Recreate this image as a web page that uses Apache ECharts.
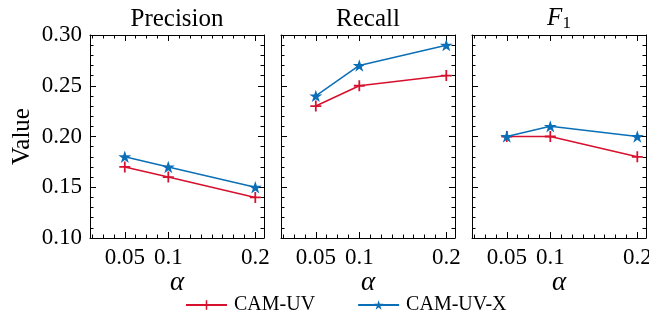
<!DOCTYPE html>
<html>
<head>
<meta charset="utf-8">
<script src="https://cdn.jsdelivr.net/npm/echarts@6/dist/echarts.min.js"></script>
<style>
  html, body { margin: 0; padding: 0; background: #fff; }
  #chart { width: 649px; height: 333px; }
</style>
</head>
<body>
<div id="chart"></div>
<script>
// alpha values on the x axis
const alphas = [0.05, 0.1, 0.2]
const xMajorTicks = [0.05, 0.1, 0.2]
const xMinorTicks = [0.0125, 0.025, 0.0375, 0.0625, 0.075, 0.0875, 0.1125, 0.125,
  0.1375, 0.15, 0.1625, 0.175, 0.1875]
const panelTitles = ['Precision', 'Recall', '{i|F}{s|1}']

const precisionUV = [0.17, 0.16, 0.14]
const precisionUVX = [0.18, 0.17, 0.15]
const recallUV = [0.23, 0.25, 0.26]
const recallUVX = [0.24, 0.27, 0.29]
const f1UV = [0.20, 0.20, 0.18]
const f1UVX = [0.20, 0.21, 0.20]

const seriesNames = ['CAM-UV', 'CAM-UV-X']
const panels = [
  [precisionUV, precisionUVX],
  [recallUV, recallUVX],
  [f1UV, f1UVX]
]

const FONT = 'Liberation Serif'
const RED = '#d7102d'
const BLUE = '#0b6fb8'
const PLUS = 'path://M4.2,0H5.8V4.2H10V5.8H5.8V10H4.2V5.8H0V4.2H4.2Z'
const STAR = 'path://M10,0L12.245,6.91L19.51,6.91L13.63,11.18L15.88,18.09L10,13.82L4.12,18.09L6.37,11.18L0.49,6.91L7.755,6.91Z'

const chart = echarts.init(document.getElementById('chart'), null, { renderer: 'canvas' })

const gridLefts = [90, 281, 472]
const grids = gridLefts.map(l => ({
  left: l, top: 35, width: 174, height: 203,
  outerBoundsMode: 'none', containLabel: false
}))

const xAxes = []
const yAxes = []
const series = []

panels.forEach((vals, i) => {
  const base = {
    type: 'value', gridIndex: i, min: 0.01, max: 0.21,
    splitLine: { show: false }
  }
  // bottom main axis
  xAxes.push(Object.assign({}, base, {
    position: 'bottom',
    name: '\u03b1', nameLocation: 'middle', nameGap: 31, nameMoveOverlap: false,
    nameTextStyle: { fontFamily: FONT, fontStyle: 'italic', fontSize: 27, color: '#000' },
    axisLine: { show: true, lineStyle: { color: '#000', width: 1 } },
    axisTick: { show: true, inside: true, length: 6, customValues: xMajorTicks, lineStyle: { color: '#000' } },
    axisLabel: {
      customValues: xMajorTicks, margin: 8, fontFamily: FONT, fontSize: 23, color: '#000',
      formatter: v => String(+v.toFixed(2))
    }
  }))
  // bottom minor ticks
  xAxes.push(Object.assign({}, base, {
    position: 'bottom',
    axisLine: { show: false },
    axisTick: { show: true, inside: true, length: 3.5, customValues: xMinorTicks, lineStyle: { color: '#000' } },
    axisLabel: { show: false }
  }))
  // top axis with panel title
  xAxes.push(Object.assign({}, base, {
    position: 'top',
    name: panelTitles[i], nameLocation: 'middle', nameGap: 3,
    nameTextStyle: {
      fontFamily: FONT, fontSize: 25, color: '#000',
      rich: {
        i: { fontFamily: FONT, fontStyle: 'italic', fontSize: 25, color: '#000' },
        s: { fontFamily: FONT, fontSize: 17, color: '#000', verticalAlign: 'bottom', padding: [10, 0, 0, 0] }
      }
    },
    axisLine: { show: true, lineStyle: { color: '#000', width: 1 } },
    axisTick: { show: true, inside: true, length: 6, customValues: xMajorTicks, lineStyle: { color: '#000' } },
    axisLabel: { show: false }
  }))
  xAxes.push(Object.assign({}, base, {
    position: 'top',
    axisLine: { show: false },
    axisTick: { show: true, inside: true, length: 3.5, customValues: xMinorTicks, lineStyle: { color: '#000' } },
    axisLabel: { show: false }
  }))

  const yBase = {
    type: 'value', gridIndex: i, min: 0.1, max: 0.3, interval: 0.05,
    splitLine: { show: false },
    axisLine: { show: true, lineStyle: { color: '#000', width: 1 } },
    axisTick: { show: true, inside: true, length: 6, lineStyle: { color: '#000' } },
    minorTick: { show: true, splitNumber: 5, length: 3.5, lineStyle: { color: '#000' } },
    minorSplitLine: { show: false }
  }
  yAxes.push(Object.assign({}, yBase, {
    position: 'left',
    name: i === 0 ? 'Value' : '', nameLocation: 'middle', nameGap: 55,
    nameTextStyle: { fontFamily: FONT, fontSize: 25, color: '#000' },
    axisLabel: {
      show: i === 0, margin: 8, fontFamily: FONT, fontSize: 23, color: '#000',
      formatter: v => v.toFixed(2)
    }
  }))
  yAxes.push(Object.assign({}, yBase, {
    position: 'right',
    axisLabel: { show: false }
  }))

  vals.forEach((data, k) => {
    series.push({
      name: seriesNames[k],
      type: 'line',
      xAxisIndex: i * 4,
      yAxisIndex: i * 2,
      data: alphas.map((a, j) => [a, data[j]]),
      symbol: k === 0 ? PLUS : STAR,
      symbolSize: k === 0 ? 11 : 13,
      symbolKeepAspect: true,
      showAllSymbol: true,
      lineStyle: { color: k === 0 ? RED : BLUE, width: 1.5 },
      itemStyle: { color: k === 0 ? RED : BLUE, borderWidth: 0 },
      z: k === 0 ? 3 : 4,
      animation: false
    })
  })
})

const option = {
  backgroundColor: '#fff',
  animation: false,
  grid: grids,
  xAxis: xAxes,
  yAxis: yAxes,
  legend: {
    data: seriesNames,
    left: 180,
    top: 290,
    itemWidth: 41,
    itemHeight: 12,
    itemGap: 42,
    textStyle: { fontFamily: FONT, fontSize: 20, color: '#000', padding: [0, 0, 0, 2] }
  },
  series: series
}

chart.setOption(option)
</script>
</body>
</html>
